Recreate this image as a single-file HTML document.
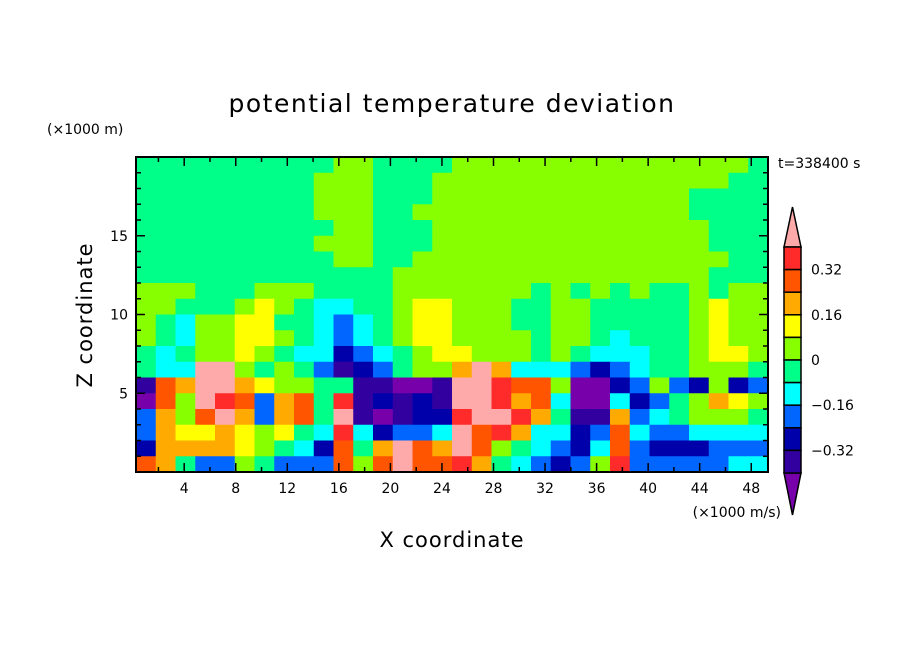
<!DOCTYPE html>
<html><head><meta charset="utf-8"><style>
body{margin:0;background:#fff;width:904px;height:654px;overflow:hidden}
svg text{font-family:"DejaVu Sans","Liberation Sans",sans-serif;fill:#000}
</style></head><body>
<svg width="904" height="654" viewBox="0 0 904 654">
<g id="field"></g>
<g id="axes"></g>
<g id="cbar"></g>
<text x="452" y="112" text-anchor="middle" font-size="25" letter-spacing="1.5">potential temperature deviation</text>
<text x="47" y="134" font-size="14">(×1000 m)</text>
<text transform="translate(92,315) rotate(-90)" text-anchor="middle" font-size="21" letter-spacing="1">Z coordinate</text>
<text x="452" y="547" text-anchor="middle" font-size="21" letter-spacing="1">X coordinate</text>
<text x="781" y="517" text-anchor="end" font-size="14">(×1000 m/s)</text>
<text x="778" y="168" font-size="14">t=338400 s</text>
</svg>
<script>
const levelColors=["#7700aa","#3300a0","#0000aa","#0066ff","#00ffff","#00ff88","#88ff00","#ffff00","#ffaa00","#ff5500","#ff2a2a","#ffaaaa"];
const colorbarLabels=["0.32","0.16","0","-0.16","-0.32"];
const colorbarLabelLevels=[0.32,0.16,0,-0.16,-0.32];
const xTicks=[4,8,12,16,20,24,28,32,36,40,44,48];
const yTicks=[5,10,15];
const fieldRows=[
"55555555556655556666666666666665",
"55555555566655566666666666666655",
"55555555566655566666666666665555",
"55555555566655666666666666665555",
"55555555556655566666666666666555",
"55555555566655566666666666666555",
"55555555556655666666666666666655",
"55555555555556666666666666666555",
"66655566655556666666565656556566",
"66555676544556776665566555556766",
"65466775543456776665566555556766",
"65466776543456776666566545556766",
"54566765442345677666565444556776",
"544bb656531235668b84443234556665",
"198bb87665511001bba9960023632623",
"096ba93895a12121bba8940042356876",
"3869b83895b10122abba851183456665",
"3877876754a42334b9a8442394334444",
"2888876542958b98b965432493222333",
"9853365333969b99a8543236a3333344"];
const NS="http://www.w3.org/2000/svg";
const PX0=136,PX1=768,PY0=157,PY1=472;
const XMIN=0.26,XMAX=49.3,ZMIN=0,ZMAX=20;
const xs=v=>PX0+(v-XMIN)/(XMAX-XMIN)*(PX1-PX0);
const ys=v=>PY1-(v-ZMIN)/(ZMAX-ZMIN)*(PY1-PY0);
function mk(t,a,p){const e=document.createElementNS(NS,t);for(const k in a)e.setAttribute(k,a[k]);p.appendChild(e);return e;}
const field=document.getElementById('field');
const nr=fieldRows.length,nc=fieldRows[0].length;
const cw=(PX1-PX0)/nc,ch=(PY1-PY0)/nr;
for(let r=0;r<nr;r++)for(let c=0;c<nc;c++){
 const lv=parseInt(fieldRows[r][c],16);
 const e=mk('rect',{x:PX0+c*cw,y:PY0+r*ch,width:cw+0.6,height:ch+0.6,fill:levelColors[lv]},field);
 
 
}
const axes=document.getElementById('axes');
const fr=mk('rect',{x:PX0,y:PY0,width:PX1-PX0,height:PY1-PY0,fill:'none',stroke:'#000','stroke-width':2},axes);


for(let v=2;v<=48;v+=2){const x=xs(v);const L=v%4===0?9:5;
 mk('line',{x1:x,y1:PY1,x2:x,y2:PY1-L,stroke:'#000','stroke-width':1.5},axes);
 mk('line',{x1:x,y1:PY0,x2:x,y2:PY0+L,stroke:'#000','stroke-width':1.5},axes);}
xTicks.forEach(v=>{const t=mk('text',{x:xs(v),y:PY1+21,'text-anchor':'middle','font-size':14},axes);t.textContent=v;
 
 });
for(let v=1;v<=19;v++){const y=ys(v);const L=v%5===0?9:5;
 mk('line',{x1:PX0,y1:y,x2:PX0+L,y2:y,stroke:'#000','stroke-width':1.5},axes);
 mk('line',{x1:PX1,y1:y,x2:PX1-L,y2:y,stroke:'#000','stroke-width':1.5},axes);}
yTicks.forEach(v=>{const t=mk('text',{x:PX0-8,y:ys(v)+5,'text-anchor':'end','font-size':14},axes);t.textContent=v;
 
 });
const cb=document.getElementById('cbar');
const BX=784,BW=17,BT=247,BB=473,nb=10,bh=(BB-BT)/nb;
const up=mk('polygon',{points:`${BX},${BT} ${BX+BW/2},207 ${BX+BW},${BT}`,fill:levelColors[11],stroke:'#000','stroke-width':1.5},cb);


const dn=mk('polygon',{points:`${BX},${BB} ${BX+BW/2},515 ${BX+BW},${BB}`,fill:levelColors[0],stroke:'#000','stroke-width':1.5},cb);


for(let i=0;i<nb;i++){const e=mk('rect',{x:BX,y:BT+i*bh,width:BW,height:bh,fill:levelColors[10-i],stroke:'#000','stroke-width':1.5},cb);
 
 }
colorbarLabels.forEach((s,i)=>{const v=colorbarLabelLevels[i];
 const y=BT+(0.4-v)/0.8*(BB-BT)+5;
 const t=mk('text',{x:811,y:y,'font-size':14},cb);t.textContent=s.replace('-','\u2212');
 
 });
</script>
</body></html>
